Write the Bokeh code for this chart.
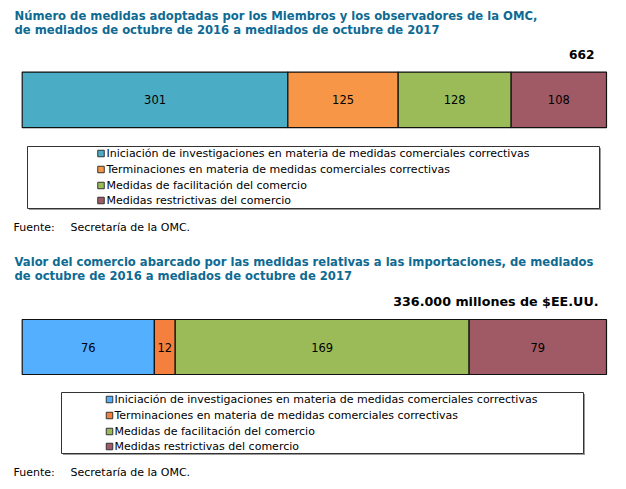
from bokeh.plotting import figure
from bokeh.models import Range1d
from bokeh.layouts import column
from bokeh.embed import file_html
from bokeh.resources import INLINE
from bokeh.core.properties import value

# ---------------- data ----------------
categories = [
    "Iniciación de investigaciones en materia de medidas comerciales correctivas",
    "Terminaciones en materia de medidas comerciales correctivas",
    "Medidas de facilitación del comercio",
    "Medidas restrictivas del comercio",
]
medidas = [301, 125, 128, 108]
valor = [76, 12, 169, 79]
colors1 = ["#4BACC6", "#F79646", "#9BBB59", "#A05A65"]
colors2 = ["#55AFFF", "#F5803E", "#9BBB59", "#A05A65"]

title1 = ["Número de medidas adoptadas por los Miembros y los observadores de la OMC,",
          "de mediados de octubre de 2016 a mediados de octubre de 2017"]
title2 = ["Valor del comercio abarcado por las medidas relativas a las importaciones, de mediados",
          "de octubre de 2016 a mediados de octubre de 2017"]
total_label1 = "{}".format(sum(medidas))
total_label2 = "{}.000 millones de $EE.UU.".format(sum(valor))
fuente = ["Fuente:", "Secretaría de la OMC."]

FONT = value("DejaVu Sans")
TITLE_COLOR = "#0E6A92"
W = 626


def panel(H, vals, colors, titles, title_ys, total_text, total_xy, total_size,
          bar_px, bar_y, bar_h, legbox, sq_x, sq_size, txt_x, row_ys, fuente_y):
    p = figure(width=W, height=H, output_backend="svg", toolbar_location=None,
               x_range=Range1d(0, W), y_range=Range1d(H, 0),
               x_axis_type=None, y_axis_type=None, min_border=0)
    p.grid.visible = False
    p.outline_line_color = None
    p.background_fill_color = "white"
    p.border_fill_color = "white"

    total = sum(vals)
    s = total / (bar_px[1] - bar_px[0])
    start = -bar_px[0] * s
    p.extra_x_ranges = {"v": Range1d(start, start + W * s)}

    # titles
    p.text(x=[14] * len(titles), y=title_ys, text=titles, text_font=FONT,
           text_font_size="11.6px", text_font_style="bold", text_color=TITLE_COLOR,
           text_baseline="alphabetic", text_align="left")
    # total label
    p.text(x=[total_xy[0]], y=[total_xy[1]], text=[total_text], text_font=FONT,
           text_font_size=total_size, text_font_style="bold", text_color="#000000",
           text_baseline="alphabetic", text_align="right")

    # stacked bar
    rights = []
    acc = 0
    for v in vals:
        acc += v
        rights.append(acc)
    lefts = [r - v for r, v in zip(rights, vals)]
    p.hbar(y=[bar_y] * len(vals), height=bar_h, left=lefts, right=rights,
           fill_color=colors, line_color="#111111", line_width=1.2, x_range_name="v")
    mids = [(l + r) / 2 for l, r in zip(lefts, rights)]
    p.text(x=mids, y=[bar_y] * len(vals), text=[str(v) for v in vals], text_font=FONT,
           text_font_size="11.5px", text_color="#000000", text_align="center",
           text_baseline="middle", x_range_name="v")

    # legend box with shadow
    l, r, t, b = legbox
    p.quad(left=[l + 1.5], right=[r + 1.5], top=[t + 1.5], bottom=[b + 1.5],
           fill_color="#9a9a9a", line_color=None)
    p.quad(left=[l], right=[r], top=[t], bottom=[b],
           fill_color="white", line_color="#333333", line_width=1)
    p.rect(x=[sq_x] * len(categories), y=row_ys, width=sq_size, height=sq_size,
           fill_color=colors, line_color="#333333", line_width=1)
    p.text(x=[txt_x] * len(categories), y=row_ys, text=categories, text_font=FONT,
           text_font_size="11px", text_color="#000000", text_align="left",
           text_baseline="middle")

    # source
    p.text(x=[13, 70], y=[fuente_y, fuente_y], text=fuente, text_font=FONT,
           text_font_size="11px", text_color="#000000", text_align="left",
           text_baseline="middle")
    return p


p1 = panel(248, medidas, colors1, title1, [15, 29], total_label1, (594, 54), "12.2px",
           (21.7, 606), 99.3, 55.5, (27, 599, 146, 208), 100.5, 6.5, 106,
           [153, 169, 185, 200], 227)
p2 = panel(241, valor, colors2, title2, [13, 27], total_label2, (598, 53), "12.7px",
           (21.7, 606), 98.5, 55, (61, 583, 144, 205), 109, 6.5, 114,
           [151, 167, 183, 198], 224)

layout = column(p1, p2, spacing=0)
open("out.html", "w").write(file_html(layout, INLINE))
